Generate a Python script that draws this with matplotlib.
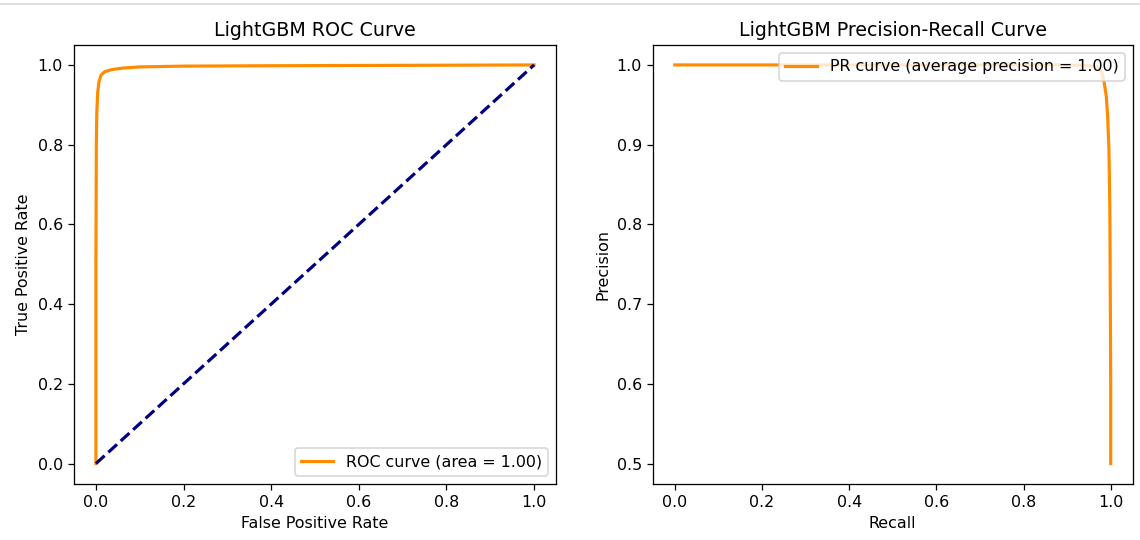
import matplotlib
matplotlib.use("Agg")
import matplotlib.pyplot as plt
from matplotlib.lines import Line2D

# ROC curve points (false positive rate, true positive rate)
fpr = [0.0, 0.0, 0.001, 0.002, 0.004, 0.007, 0.012, 0.02, 0.035, 0.06, 0.1, 0.2, 0.4, 0.7, 1.0]
tpr = [0.0, 0.5, 0.8, 0.88, 0.93, 0.958, 0.975, 0.983, 0.988, 0.992, 0.995, 0.997, 0.998, 0.999, 1.0]
roc_auc = 1.00

# precision-recall curve points
recall = [0.0, 0.3, 0.6, 0.9, 0.95, 0.97, 0.98, 0.985, 0.99, 0.993, 0.996, 0.998, 0.999, 1.0, 1.0]
precision = [1.0, 1.0, 1.0, 1.0, 0.999, 0.997, 0.99, 0.978, 0.96, 0.935, 0.893, 0.82, 0.72, 0.6, 0.5]
avg_precision = 1.00

dpi = 114
fig = plt.figure(figsize=(1140 / dpi, 540 / dpi), dpi=dpi)

# thin separator line along the top
fig.add_artist(Line2D([0, 1], [1 - 3.5 / 540, 1 - 3.5 / 540], transform=fig.transFigure,
                      color='#dddddd', linewidth=1.2))

ax1 = fig.add_axes([74 / 1140, 56.5 / 540, 482 / 1140, 438.5 / 540])
ax1.plot(fpr, tpr, color='darkorange', lw=2, label='ROC curve (area = %0.2f)' % roc_auc)
ax1.plot([0, 1], [0, 1], color='navy', lw=2, linestyle='--')
ax1.set_xlabel('False Positive Rate')
ax1.set_ylabel('True Positive Rate')
ax1.set_title('LightGBM ROC Curve')
ax1.legend(loc='lower right')

ax2 = fig.add_axes([653 / 1140, 56.5 / 540, 479.5 / 1140, 438.5 / 540])
ax2.plot(recall, precision, color='darkorange', lw=2,
         label='PR curve (average precision = %0.2f)' % avg_precision)
ax2.set_xlabel('Recall')
ax2.set_ylabel('Precision')
ax2.set_title('LightGBM Precision-Recall Curve')
ax2.legend(loc='upper right')

fig.savefig('out.png', dpi=dpi)
